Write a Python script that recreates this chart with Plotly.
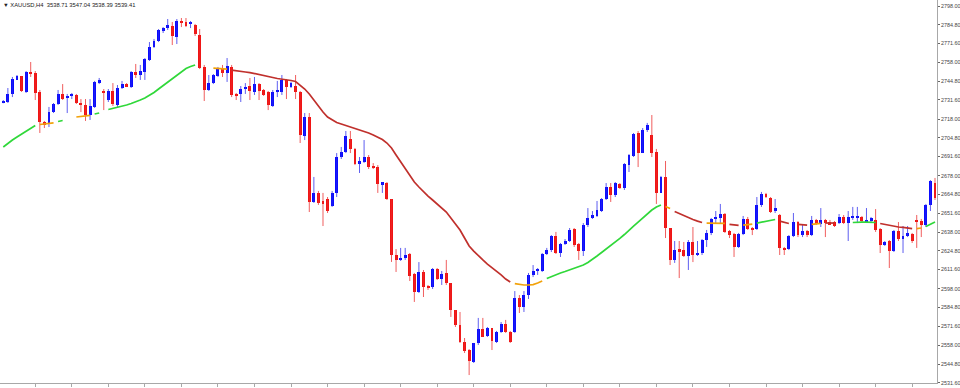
import plotly.graph_objects as go

# ---------------- data (XAUUSD H4) ----------------
price_ticks = ["2798.00", "2784.80", "2771.60", "2758.00", "2744.80", "2731.60", "2718.00",
               "2704.80", "2691.60", "2678.00", "2664.80", "2651.60", "2638.00", "2624.80",
               "2611.60", "2598.00", "2584.80", "2571.60", "2558.00", "2544.80", "2531.60"]

title_text = "\u25bc XAUUSD,H4  3538.71 3547.04 3538.39 3539.41"

opens = [2729.6, 2730.1, 2735.8, 2745.7, 2748.5, 2737.2, 2751.3, 2750.6, 2737.2, 2716.0,
         2714.5, 2723.0, 2728.7, 2735.8, 2732.9, 2734.4, 2735.1, 2729.4, 2728.0, 2720.9,
         2726.6, 2743.5, 2737.2, 2731.5, 2737.9, 2728.0, 2740.0, 2742.8, 2740.7, 2751.3,
         2749.2, 2751.3, 2759.8, 2769.0, 2773.2, 2780.3, 2782.4, 2783.9, 2776.1, 2787.4,
         2786.7, 2785.3, 2784.6, 2777.5, 2754.9, 2738.6, 2743.5, 2748.5, 2753.4, 2750.6,
         2754.9, 2735.8, 2735.8, 2739.3, 2741.4, 2737.2, 2742.8, 2738.6, 2737.2, 2727.3,
         2737.2, 2737.2, 2745.7, 2740.7, 2741.4, 2737.2, 2706.1, 2719.5, 2659.4, 2665.8,
         2660.1, 2661.3, 2656.6, 2665.8, 2691.2, 2694.7, 2703.9, 2696.9, 2686.2, 2687.7,
         2691.2, 2684.8, 2684.1, 2672.1, 2672.8, 2661.5, 2621.9, 2618.4, 2619.8, 2622.6,
         2608.5, 2595.7, 2609.9, 2599.3, 2599.3, 2612.0, 2604.9, 2609.2, 2602.1, 2583.0,
         2572.4, 2560.4, 2554.7, 2546.2, 2559.7, 2569.6, 2564.6, 2570.3, 2560.4, 2567.5,
         2573.1, 2567.5, 2567.5, 2591.5, 2585.1, 2593.6, 2607.8, 2610.6, 2610.6, 2622.6,
         2625.4, 2635.3, 2623.3, 2629.7, 2631.8, 2640.3, 2629.7, 2624.7, 2643.1, 2648.1,
         2649.5, 2653.0, 2661.5, 2670.0, 2664.3, 2672.1, 2669.3, 2685.5, 2691.9, 2708.2,
         2694.0, 2710.3, 2706.8, 2694.7, 2665.8, 2677.1, 2641.0, 2618.4, 2626.1, 2625.4,
         2621.2, 2631.1, 2621.9, 2623.3, 2632.5, 2637.5, 2647.4, 2648.1, 2650.9, 2638.9,
         2636.8, 2627.6, 2636.8, 2647.4, 2641.0, 2640.3, 2657.3, 2665.0, 2662.2, 2653.0,
         2650.2, 2626.9, 2626.1, 2635.3, 2645.2, 2636.0, 2638.9, 2636.0, 2646.7, 2643.8,
         2646.7, 2645.2, 2645.2, 2644.5, 2648.8, 2644.5, 2648.1, 2648.1, 2648.8, 2645.9,
         2645.9, 2646.7, 2640.3, 2629.0, 2631.8, 2624.7, 2638.9, 2633.2, 2635.3, 2636.8,
         2646.7, 2645.9, 2643.1, 2657.3, 2672.8]

highs = [2731.5, 2740.0, 2747.8, 2749.2, 2748.5, 2752.0, 2758.4, 2752.0, 2738.6, 2716.7,
         2726.6, 2729.4, 2738.6, 2742.8, 2735.8, 2736.5, 2735.8, 2732.2, 2732.2, 2732.2,
         2745.0, 2747.1, 2739.3, 2739.3, 2743.5, 2742.1, 2745.0, 2743.5, 2752.0, 2757.0,
         2756.3, 2761.2, 2772.5, 2774.7, 2781.7, 2783.1, 2788.8, 2786.7, 2788.8, 2789.5,
         2789.5, 2787.4, 2785.3, 2781.7, 2756.3, 2749.2, 2749.9, 2754.9, 2756.3, 2761.2,
         2756.3, 2736.5, 2741.4, 2743.5, 2747.1, 2747.8, 2743.5, 2739.3, 2737.9, 2738.6,
         2745.0, 2749.2, 2746.4, 2744.3, 2749.2, 2737.9, 2722.3, 2722.3, 2677.1, 2667.2,
         2665.8, 2662.9, 2667.2, 2694.0, 2698.3, 2709.6, 2709.6, 2697.6, 2691.2, 2703.2,
         2692.6, 2686.9, 2685.5, 2673.5, 2673.5, 2661.5, 2626.1, 2626.9, 2626.9, 2623.3,
         2609.2, 2616.9, 2611.3, 2600.7, 2612.7, 2612.7, 2610.6, 2618.4, 2602.1, 2583.0,
         2581.6, 2563.2, 2555.4, 2559.7, 2577.4, 2577.4, 2571.0, 2570.3, 2568.2, 2574.5,
         2576.0, 2568.2, 2596.4, 2593.6, 2596.4, 2609.2, 2614.8, 2612.7, 2623.3, 2626.9,
         2636.0, 2638.2, 2630.4, 2633.2, 2641.0, 2641.0, 2630.4, 2644.5, 2655.1, 2653.0,
         2660.1, 2662.2, 2672.8, 2672.8, 2673.5, 2672.8, 2686.9, 2693.3, 2708.2, 2709.6,
         2711.7, 2715.3, 2720.9, 2696.9, 2677.8, 2688.4, 2641.0, 2631.8, 2631.8, 2631.1,
         2632.5, 2641.7, 2631.8, 2633.2, 2639.6, 2648.1, 2653.0, 2658.0, 2651.6, 2639.6,
         2637.5, 2637.5, 2649.5, 2648.8, 2641.7, 2662.9, 2666.5, 2665.8, 2662.9, 2661.5,
         2650.9, 2627.6, 2636.0, 2651.6, 2645.9, 2643.1, 2639.6, 2649.5, 2647.4, 2655.1,
         2647.4, 2646.7, 2645.9, 2650.9, 2650.2, 2653.0, 2655.9, 2655.9, 2649.5, 2655.1,
         2648.8, 2654.4, 2641.0, 2631.8, 2632.5, 2639.6, 2645.2, 2642.4, 2642.4, 2637.5,
         2650.2, 2647.4, 2658.0, 2674.9, 2676.4]

lows = [2729.2, 2729.4, 2733.6, 2745.7, 2737.2, 2736.5, 2747.8, 2731.5, 2708.2, 2711.7,
        2712.4, 2722.3, 2728.0, 2731.5, 2722.3, 2732.2, 2728.7, 2723.0, 2716.7, 2717.4,
        2725.9, 2742.8, 2724.4, 2730.1, 2727.3, 2726.6, 2739.3, 2740.7, 2740.0, 2747.1,
        2745.7, 2745.7, 2759.1, 2768.3, 2772.5, 2778.9, 2781.0, 2770.4, 2771.1, 2783.1,
        2783.1, 2782.4, 2776.8, 2753.4, 2730.8, 2737.9, 2742.8, 2747.8, 2747.8, 2744.3,
        2733.6, 2731.5, 2730.1, 2735.8, 2731.5, 2735.1, 2731.5, 2734.4, 2724.4, 2726.6,
        2733.6, 2735.1, 2732.2, 2740.0, 2732.2, 2701.1, 2703.2, 2652.3, 2658.7, 2657.3,
        2642.4, 2651.6, 2655.9, 2662.9, 2689.8, 2694.0, 2694.0, 2685.5, 2679.9, 2687.0,
        2682.7, 2682.7, 2665.8, 2665.8, 2660.8, 2617.0, 2609.9, 2617.7, 2618.4, 2603.5,
        2588.7, 2595.0, 2592.2, 2597.2, 2597.9, 2604.2, 2600.7, 2600.7, 2578.1, 2571.0,
        2559.7, 2552.6, 2537.0, 2545.5, 2558.3, 2563.9, 2563.9, 2554.7, 2559.7, 2566.8,
        2566.8, 2559.7, 2566.8, 2580.9, 2581.6, 2590.8, 2606.3, 2607.8, 2609.9, 2621.9,
        2624.0, 2622.6, 2620.5, 2629.0, 2631.1, 2627.6, 2618.4, 2621.2, 2641.7, 2647.4,
        2648.8, 2652.3, 2660.8, 2659.4, 2662.9, 2668.6, 2667.9, 2680.6, 2691.2, 2684.1,
        2694.0, 2708.9, 2691.2, 2658.0, 2665.8, 2633.9, 2614.8, 2616.3, 2605.6, 2620.5,
        2611.3, 2616.9, 2621.2, 2621.9, 2627.6, 2636.0, 2644.5, 2644.5, 2637.5, 2633.9,
        2620.5, 2626.9, 2636.0, 2639.6, 2636.0, 2639.6, 2655.9, 2662.2, 2651.6, 2651.6,
        2621.9, 2621.9, 2625.4, 2634.6, 2634.6, 2634.6, 2634.6, 2635.3, 2643.1, 2641.7,
        2634.6, 2643.1, 2641.7, 2643.8, 2643.8, 2631.8, 2646.7, 2644.5, 2645.2, 2644.5,
        2644.5, 2638.2, 2623.3, 2628.3, 2612.7, 2624.0, 2631.8, 2623.3, 2634.6, 2630.4,
        2626.9, 2634.6, 2641.7, 2653.0, 2660.8]

closes = [2731.0, 2735.8, 2746.4, 2748.5, 2737.9, 2751.3, 2750.6, 2736.5, 2716.0, 2713.8,
          2723.0, 2728.7, 2735.8, 2732.2, 2734.4, 2735.1, 2729.4, 2728.0, 2720.9, 2727.3,
          2744.3, 2745.7, 2736.5, 2737.9, 2728.7, 2740.0, 2742.8, 2741.4, 2751.3, 2749.2,
          2752.0, 2760.5, 2769.0, 2773.2, 2781.0, 2782.4, 2784.6, 2776.8, 2787.4, 2786.0,
          2783.9, 2786.0, 2778.2, 2754.1, 2738.6, 2743.5, 2749.2, 2753.4, 2750.6, 2755.6,
          2735.1, 2734.4, 2739.3, 2740.7, 2737.9, 2742.8, 2737.9, 2735.1, 2728.0, 2737.2,
          2738.6, 2745.7, 2740.7, 2743.5, 2737.2, 2706.8, 2719.5, 2659.4, 2665.8, 2658.7,
          2657.9, 2653.2, 2665.8, 2691.2, 2694.7, 2706.1, 2696.9, 2686.2, 2688.4, 2691.2,
          2684.1, 2684.1, 2672.1, 2673.5, 2661.5, 2621.9, 2618.4, 2619.8, 2621.9, 2607.0,
          2595.7, 2609.9, 2599.3, 2598.6, 2612.0, 2604.9, 2608.5, 2602.1, 2583.0, 2572.4,
          2560.4, 2554.0, 2546.9, 2559.7, 2569.6, 2563.9, 2570.3, 2561.1, 2567.5, 2573.1,
          2567.5, 2560.4, 2591.5, 2585.1, 2593.6, 2607.7, 2610.6, 2612.0, 2622.6, 2625.4,
          2635.3, 2623.3, 2629.7, 2631.8, 2639.6, 2629.0, 2624.7, 2643.1, 2648.0, 2650.2,
          2653.7, 2661.5, 2670.0, 2664.3, 2672.8, 2669.3, 2686.2, 2692.6, 2707.5, 2694.0,
          2710.3, 2713.8, 2694.0, 2665.8, 2677.1, 2641.0, 2618.4, 2625.4, 2624.7, 2621.2,
          2631.1, 2621.9, 2623.3, 2632.5, 2637.5, 2647.4, 2648.1, 2650.9, 2638.2, 2636.0,
          2627.6, 2636.8, 2647.4, 2640.3, 2639.6, 2657.3, 2665.0, 2662.9, 2652.3, 2655.1,
          2626.9, 2626.1, 2635.3, 2645.2, 2636.0, 2638.9, 2636.0, 2646.7, 2643.8, 2646.7,
          2644.5, 2643.8, 2642.4, 2648.8, 2644.5, 2648.8, 2648.8, 2648.8, 2645.9, 2646.7,
          2648.1, 2639.6, 2629.0, 2631.1, 2624.7, 2638.9, 2633.2, 2635.3, 2637.5, 2631.8,
          2645.2, 2643.1, 2657.3, 2674.2, 2662.2]

ma_values = [2698.3, 2701.1, 2703.2, 2705.3, 2707.5, 2709.6, 2711.7, 2713.5, 2714.2, 2714.5,
             2714.9, 2715.3, 2716.3, 2717.0, 2717.7, 2718.4, 2719.5, 2719.9, 2720.2, 2720.6,
             2721.6, 2722.3, 2723.7, 2724.8, 2725.5, 2726.2, 2726.9, 2728.0, 2729.0, 2730.1,
             2731.5, 2732.9, 2734.7, 2736.8, 2739.3, 2741.8, 2744.3, 2746.7, 2749.2, 2751.7,
             2753.8, 2755.2, 2756.3, 2755.6, 2754.9, 2754.5, 2754.1, 2753.8, 2753.8, 2753.4,
             2752.7, 2752.4, 2752.0, 2751.3, 2750.9, 2750.3, 2749.5, 2748.8, 2748.1, 2747.4,
             2746.7, 2746.4, 2745.7, 2745.3, 2744.6, 2742.1, 2739.3, 2735.8, 2731.5, 2727.3,
             2723.0, 2719.5, 2717.4, 2715.6, 2714.5, 2713.5, 2712.4, 2711.4, 2710.3, 2709.2,
             2708.2, 2706.8, 2705.3, 2703.6, 2701.1, 2697.6, 2692.6, 2687.7, 2682.7, 2677.8,
             2673.5, 2670.0, 2666.5, 2663.6, 2660.8, 2658.0, 2655.1, 2652.3, 2648.1, 2643.8,
             2639.6, 2633.9, 2628.3, 2624.7, 2621.2, 2618.4, 2615.5, 2613.1, 2610.6, 2607.8,
             2604.9, 2602.8, 2601.7, 2601.0, 2600.7, 2600.7, 2601.0, 2602.1, 2603.5, 2605.3,
             2606.7, 2608.1, 2609.2, 2610.2, 2611.3, 2612.4, 2613.4, 2614.8, 2616.6, 2618.7,
             2621.2, 2623.7, 2626.1, 2628.6, 2631.1, 2633.6, 2636.4, 2639.6, 2642.4, 2645.2,
             2648.1, 2650.9, 2653.7, 2655.9, 2657.3, 2656.2, 2654.8, 2652.7, 2651.2, 2649.8,
             2648.4, 2647.0, 2645.9, 2644.9, 2644.5, 2644.5, 2644.5, 2644.5, 2644.2, 2643.5,
             2643.1, 2642.8, 2643.1, 2643.5, 2643.8, 2644.5, 2645.2, 2645.9, 2646.7, 2647.0,
             2645.9, 2644.9, 2644.2, 2643.8, 2643.5, 2643.1, 2643.1, 2643.5, 2643.8, 2644.2,
             2644.5, 2644.5, 2644.5, 2644.5, 2644.9, 2644.9, 2644.9, 2645.2, 2645.2, 2645.2,
             2645.2, 2644.9, 2644.2, 2643.5, 2642.8, 2642.1, 2641.7, 2641.4, 2641.0, 2640.6,
             2640.6, 2641.0, 2642.1, 2643.5, 2645.2]

# MA colour state runs: G = rising, R = falling, O = flat, - = not drawn
ma_runs = [("G", 8), ("O", 4), ("G", 2), ("-", 2), ("O", 4), ("G", 2), ("-", 1), ("G", 20),
           ("-", 3), ("O", 4), ("R", 62), ("O", 7), ("G", 26), ("O", 2), ("R", 7), ("O", 5),
           ("R", 3), ("O", 3), ("G", 5), ("R", 3), ("-", 1), ("R", 3), ("O", 3), ("R", 3),
           ("-", 3), ("G", 6), ("R", 8), ("O", 2), ("G", 3)]

# ---------------- styling ----------------
BULL = "#0a0aff"
BEAR = "#f01414"
BULL_WICK = "rgba(40,40,235,0.75)"
BEAR_WICK = "rgba(235,40,40,0.75)"
MA_COLORS = {"G": "#30d83a", "R": "#c0302c", "O": "#f2a20a"}
AXIS = "#a8a8a8"

n = len(opens)
xs = list(range(n))
ma_state = []
for code, cnt in ma_runs:
    ma_state.extend([code] * cnt)

fig = go.Figure()

# wicks
for bull, col in ((True, BULL_WICK), (False, BEAR_WICK)):
    wx, wy = [], []
    for i in xs:
        if (closes[i] >= opens[i]) == bull:
            wx += [i, i, None]
            wy += [lows[i], highs[i], None]
    fig.add_trace(go.Scatter(x=wx, y=wy, mode="lines", line=dict(color=col, width=1),
                             hoverinfo="skip", showlegend=False))

# bodies
bases, heights, colors = [], [], []
for i in xs:
    lo = min(opens[i], closes[i])
    hi = max(opens[i], closes[i])
    h = max(hi - lo, 0.75)
    bases.append(lo)
    heights.append(h)
    colors.append(BULL if closes[i] >= opens[i] else BEAR)
fig.add_trace(go.Bar(x=xs, y=heights, base=bases, width=0.64,
                     marker=dict(color=colors, line=dict(width=0)),
                     hoverinfo="skip", showlegend=False))

# moving average, coloured by state
for code, col in MA_COLORS.items():
    yy = [ma_values[i] if ma_state[i] == code else None for i in xs]
    fig.add_trace(go.Scatter(x=xs, y=yy, mode="lines", line=dict(color=col, width=1.7),
                             connectgaps=False, hoverinfo="skip", showlegend=False))

fig.add_annotation(text=title_text, xref="paper", yref="paper", x=0.001, y=1.0,
                   xanchor="left", yanchor="top", showarrow=False,
                   font=dict(family="Liberation Sans", size=5.8, color="#222"))

fig.update_layout(
    width=960, height=388,
    margin=dict(l=0, r=23, t=0, b=5),
    paper_bgcolor="white", plot_bgcolor="white",
    showlegend=False, bargap=0,
    xaxis=dict(range=[-0.72, 204.44], showgrid=False, zeroline=False,
               showline=True, linecolor=AXIS, linewidth=1,
               ticks="outside", ticklen=3, tickcolor=AXIS,
               tickvals=list(range(7, n, 8)), showticklabels=False, fixedrange=True),
    yaxis=dict(side="right", range=[2531.38, 2802.24], showgrid=False, zeroline=False,
               showline=True, linecolor=AXIS, linewidth=1,
               ticks="outside", ticklen=2, tickcolor="#666",
               tickvals=[float(t) for t in price_ticks], ticktext=price_ticks,
               tickfont=dict(family="Liberation Sans", size=5.4, color="#444"),
               fixedrange=True),
)

fig.write_html("out.html")
